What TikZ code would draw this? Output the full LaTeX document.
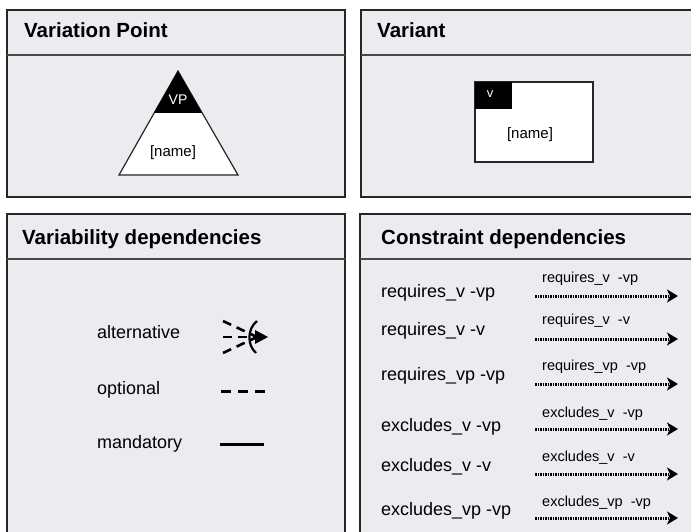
\documentclass[tikz,border=0pt]{standalone}
\usepackage{fontspec}
\setmainfont{Liberation Sans}
\usetikzlibrary{arrows.meta,positioning}

\definecolor{panelbg}{HTML}{ECEBF0}
\definecolor{framegray}{HTML}{262626}

\tikzset{
  panel/.style={draw=framegray,line width=2.2pt,fill=panelbg},
  headline/.style={draw=framegray!85,line width=1.3pt},
  title/.style={anchor=base west,inner sep=0pt,font=\fontsize{20.5}{23}\selectfont\bfseries},
  legend/.style={anchor=base west,inner sep=0pt,font=\fontsize{18}{21}\selectfont},
  small/.style={anchor=base west,inner sep=0pt,font=\fontsize{14.5}{17}\selectfont},
  inverse/.style={text=white,inner sep=0pt,font=\fontsize{14}{16}\selectfont},
  depline/.style={line width=3pt,black},
  constraint/.style={line width=3pt,dash pattern=on 1.6pt off 0.9pt,
    -{Stealth[length=11pt,width=13pt,inset=3pt]}},
}

\begin{document}
\begin{tikzpicture}[x=1pt,y=-1pt]
	\useasboundingbox (0,0) rectangle (691,532);
	\clip (0,0) rectangle (691,532);

	% the four panels
	\draw[panel] (7,10) rectangle (345,197);
	\draw[panel] (361,10) rectangle (700,197);
	\draw[panel] (7,214) rectangle (345,540);
	\draw[panel] (360,214) rectangle (700,540);
	\draw[headline] (7,55) -- (345,55);
	\draw[headline] (361,55) -- (700,55);
	\draw[headline] (7,259) -- (345,259);
	\draw[headline] (360,259) -- (700,259);

	\node[title] (vptitle) at (24,38) {Variation Point};
	\node[title] (vtitle) at (377,38) {Variant};
	\node[title] (vdtitle) at (22,244) {Variability dependencies};
	\node[title] (cdtitle) at (381,244) {Constraint dependencies};

	% variation point
	\draw[fill=white,draw=framegray,line width=1.2pt] (178,71) -- (238,175) -- (119,175) -- cycle;
	\fill[black] (178,71) -- (202,113) -- (154,113) -- cycle;
	\node[inverse] (vp) at (178,100) {VP};
	\node[inner sep=0pt,font=\fontsize{15}{17}\selectfont] (vpname) at (173,153) {[name]};

	% variant
	\draw[fill=white,draw=framegray,line width=1.2pt] (475,82) rectangle (593,162);
	\fill[black] (475,82) rectangle (512,109);
	\node[inverse,font=\fontsize{13}{15}\selectfont] (v) at (490,94) {v};
	\node[inner sep=0pt,font=\fontsize{15}{17}\selectfont] (vname) at (530,135) {[name]};

	% variability dependencies
	\node[legend] (alt) at (97,338) {alternative};
	\node[legend] (opt) at (97,394) {optional};
	\node[legend] (man) at (97,448) {mandatory};

	\coordinate (alt-p) at (257,337);
	\foreach \sy in {321,337,353}
		\draw[depline,line width=2.6pt,dash pattern=on 9pt off 6pt] (223,\sy) -- (alt-p);
	\draw[line width=2.2pt] (257,321) .. controls (247,329) and (247,345) .. (256,353);
	\fill[black] (255,330) -- (268,337) -- (255,344) -- cycle;

	\coordinate (opt-s) at (221,391);
	\coordinate (opt-e) at (265,391);
	\draw[depline,dash pattern=on 10pt off 7pt] (opt-s) -- (opt-e);
	\coordinate (man-s) at (220,444);
	\coordinate (man-e) at (264,444);
	\draw[depline] (man-s) -- (man-e);

	% constraint dependencies
	\foreach \lab/\ly/\ay [count=\i] in {
		requires\_v -vp/297/296,
		requires\_v -v/335/339,
		requires\_vp -vp/380/384,
		excludes\_v -vp/431/429,
		excludes\_v -v/471/474,
		excludes\_vp -vp/515/518}
	{
		\node[legend] (cl-\i) at (381,\ly) {\lab};
		\coordinate (a-\i-s) at (535,\ay);
		\coordinate (a-\i-e) at (678,\ay);
		\draw[constraint] (a-\i-s) -- (a-\i-e);
	}
	\foreach \lab/\sy [count=\i] in {
		requires\_v\ \ -vp/282,
		requires\_v\ \ -v/324,
		requires\_vp\ \ -vp/370,
		excludes\_v\ \ -vp/417,
		excludes\_v\ \ -v/461,
		excludes\_vp\ \ -vp/506}
		\node[small] (cs-\i) at (542,\sy) {\lab};
\end{tikzpicture}
\end{document}
